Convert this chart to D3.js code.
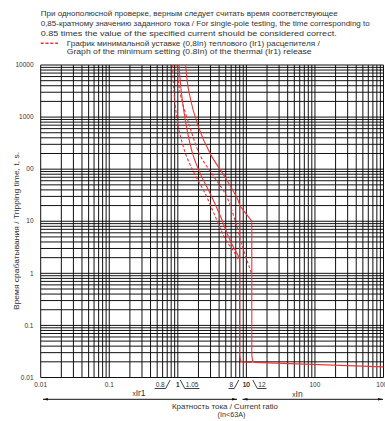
<!DOCTYPE html>
<html>
<head>
<meta charset="utf-8">
<script src="https://cdn.jsdelivr.net/npm/d3@7"></script>
<style>
  body { margin: 0; background: #fff; }
  svg { display: block; font-family: "Liberation Sans", Arial, sans-serif; }
</style>
</head>
<body>
<div id="chart"></div>
<script>
// notes above the chart
const noteLines = [
  "При однополюсной проверке, верным следует считать время соответствующее",
  "0,85-кратному значению заданного тока / For single-pole testing, the time corresponding to",
  "0.85 times the value of the specified current should be considered correct."
];
const legendLines = [
  "График минимальной уставке (0,8In) теплового (Ir1) расцепителя /",
  "Graph of the minimum setting (0.8In) of the thermal (Ir1) release"
];

// axis ticks
const xTickValues = [0.01, 0.1, 1, 10, 100, 1000];
const xTickLabels = ["0.01", "0.1", "1", "10", "100", "1000"];
const yTickValues = [10000, 1000, 100, 10, 1, 0.1, 0.01];
const yTickLabels = ["10000", "1000", "00", "10", "1", "0.1", "0.01"];
const markValues = [0.8, 1, 1.05, 8, 10, 12];
const markLabels = ["0.8", "1", "1.05", "8", "10", "12"];
const markSides = ["left", "mid", "right", "left", "mid", "right"];

// curves: [current multiple, time s]
const minCurve = [[1.04, 10000], [1.13, 2900], [1.34, 643], [1.67, 186], [2.18, 76], [2.95, 34.5], [4.13, 13], [5.77, 4.3], [8, 1.94]];
const maxCurve = [[1.3, 10000], [1.46, 2900], [2.0, 643], [3.05, 186], [4.7, 76], [7.5, 26], [8, 20]];
const maxTail = [[8, 20], [12, 10], [12, 0.027], [12.3, 0.021], [13, 0.0195], [1000, 0.016]];
const minTail = [[8, 20], [8, 0.027], [8.25, 0.021], [8.8, 0.0197], [12, 0.0195]];
const minCurve08 = [[0.84, 10000], [0.88, 2900], [1.02, 643], [1.32, 186], [1.8, 76], [2.5, 34.5], [3.5, 12.5], [5.05, 4.3], [6.4, 2.77], [8, 1.63]];
const maxCurve08 = [[0.97, 10000], [1.08, 2900], [1.5, 643], [2.11, 186], [3.26, 76], [5.05, 31.6], [6.83, 10.4], [8.64, 3.45], [12, 0.96]];

const width = 385, height = 421;
const plotLeft = 40.7, plotRight = 383.5, plotTop = 65, plotBottom = 377.5;
const red = "#ee3535";
const textColor = "#333";

const svg = d3.select("#chart").append("svg")
  .attr("width", width)
  .attr("height", height);

const x = d3.scaleLog().domain([0.01, 1000]).range([plotLeft, plotRight]);
const y = d3.scaleLog().domain([0.01, 10000]).range([plotBottom, plotTop]);

// note text, stretched to the widths seen in the original
const noteWidths = [297, 329, 296];
svg.append("g").selectAll("text")
  .data(noteLines)
  .enter().append("text")
  .attr("x", plotLeft)
  .attr("y", (d, i) => 16.3 + i * 9.9)
  .attr("fill", textColor)
  .attr("textLength", (d, i) => noteWidths[i])
  .attr("lengthAdjust", "spacingAndGlyphs")
  .style("font-size", "7.4px")
  .text(d => d);

// legend
svg.append("line")
  .attr("x1", plotLeft).attr("x2", 59.5)
  .attr("y1", 43.3).attr("y2", 43.3)
  .attr("stroke", red)
  .attr("stroke-width", 1.5)
  .attr("stroke-dasharray", "3,1.8");

const legendWidths = [253, 245];
svg.append("g").selectAll("text")
  .data(legendLines)
  .enter().append("text")
  .attr("x", 66.7)
  .attr("y", (d, i) => 45.6 + i * 8.7)
  .attr("fill", textColor)
  .attr("textLength", (d, i) => legendWidths[i])
  .attr("lengthAdjust", "spacingAndGlyphs")
  .style("font-size", "7.4px")
  .text(d => d);

// grid
const grid = svg.append("g");
grid.selectAll("line.v")
  .data(x.ticks())
  .enter().append("line")
  .attr("x1", d => x(d)).attr("x2", d => x(d))
  .attr("y1", plotTop).attr("y2", plotBottom)
  .attr("stroke", "#111")
  .attr("stroke-width", 1);

grid.selectAll("line.h")
  .data(y.ticks())
  .enter().append("line")
  .attr("x1", plotLeft).attr("x2", plotRight)
  .attr("y1", d => y(d)).attr("y2", d => y(d))
  .attr("stroke", "#111")
  .attr("stroke-width", 1);

// tick labels
svg.append("g").selectAll("text")
  .data(xTickValues)
  .enter().append("text")
  .attr("x", d => x(d))
  .attr("y", 386.5)
  .attr("text-anchor", "middle")
  .attr("fill", textColor)
  .style("font-size", "6.5px")
  .text((d, i) => xTickLabels[i]);

svg.append("g").selectAll("text")
  .data(yTickValues)
  .enter().append("text")
  .attr("x", 33.5)
  .attr("y", d => y(d) + 2.2)
  .attr("text-anchor", "end")
  .attr("fill", textColor)
  .style("font-size", "6.5px")
  .text((d, i) => yTickLabels[i]);

// special current marks with leader lines
const marks = svg.append("g");
markValues.forEach((v, i) => {
  const xv = x(v);
  const side = markSides[i];
  const t = marks.append("text")
    .attr("y", 386.5)
    .attr("fill", textColor)
    .style("font-size", "6.5px")
    .text(markLabels[i]);
  if (side === "mid") {
    t.attr("x", xv).attr("text-anchor", "middle");
    return;
  }
  const w = t.node().getComputedTextLength();
  const dir = side === "left" ? -1 : 1;
  const x0 = xv + dir * 1;
  const x1 = x0 + dir * 4.5;
  const x2 = x1 + dir * (w + 2);
  marks.append("path")
    .attr("d", `M${x0},${plotBottom + 2.5}L${x1},388.5L${x2},388.5`)
    .attr("fill", "none")
    .attr("stroke", "#111")
    .attr("stroke-width", 0.8);
  if (side === "left") t.attr("x", x1 - 1).attr("text-anchor", "end");
  else t.attr("x", x1 + 1).attr("text-anchor", "start");
});

// curves
const thermal = d3.line()
  .x(d => x(d[0]))
  .y(d => y(d[1]))
  .curve(d3.curveCatmullRom.alpha(0.5));
const straight = d3.line()
  .x(d => x(d[0]))
  .y(d => y(d[1]));

const curves = svg.append("g").attr("fill", "none").attr("stroke", red).attr("stroke-width", 1.1);
curves.append("path").attr("d", thermal(minCurve));
curves.append("path").attr("d", thermal(maxCurve));
curves.append("path").attr("d", straight(maxTail));
curves.append("path").attr("d", straight(minTail));
curves.append("path").attr("d", thermal(minCurve08)).attr("stroke-dasharray", "3,2");
curves.append("path").attr("d", thermal(maxCurve08)).attr("stroke-dasharray", "3,2");

// y-axis title
svg.append("text")
  .attr("transform", "translate(18.5,231) rotate(-90)")
  .attr("text-anchor", "middle")
  .attr("fill", textColor)
  .attr("textLength", 158)
  .attr("lengthAdjust", "spacingAndGlyphs")
  .style("font-size", "7.4px")
  .text("Время срабатывания / Tripping time, t, s.");

// bottom arrows and range labels
const arrowY = 399.3;
const arrows = svg.append("g").attr("stroke", "#111").attr("fill", "#111");
arrows.append("line").attr("x1", 43).attr("x2", 237).attr("y1", arrowY).attr("y2", arrowY).attr("stroke-width", 1);
arrows.append("line").attr("x1", 242.5).attr("x2", 383).attr("y1", arrowY).attr("y2", arrowY).attr("stroke-width", 1);
function head(xp, dir) {
  arrows.append("path")
    .attr("stroke", "none")
    .attr("d", `M${xp},${arrowY}L${xp - dir * 5},${arrowY - 1.3}L${xp - dir * 5},${arrowY + 1.3}Z`);
}
head(43, -1);
head(237, 1);
head(242.5, -1);
head(383, 1);

const ir = svg.append("text")
  .attr("x", 139)
  .attr("y", 396)
  .attr("text-anchor", "middle")
  .attr("fill", textColor);
ir.append("tspan").style("font-size", "6.5px").text("x");
ir.append("tspan").style("font-size", "8.5px").text("Ir1");

const inn = svg.append("text")
  .attr("x", 297.5)
  .attr("y", 396.5)
  .attr("text-anchor", "middle")
  .attr("fill", textColor);
inn.append("tspan").style("font-size", "6.5px").text("x");
inn.append("tspan").style("font-size", "8.5px").text("In");

svg.append("text")
  .attr("x", 225)
  .attr("y", 409)
  .attr("text-anchor", "middle")
  .attr("fill", textColor)
  .attr("textLength", 106)
  .attr("lengthAdjust", "spacingAndGlyphs")
  .style("font-size", "7.2px")
  .text("Кратность тока / Current ratio");

svg.append("text")
  .attr("x", 231.5)
  .attr("y", 416.8)
  .attr("text-anchor", "middle")
  .attr("fill", textColor)
  .style("font-size", "7.2px")
  .text("(In<63A)");
</script>
</body>
</html>
